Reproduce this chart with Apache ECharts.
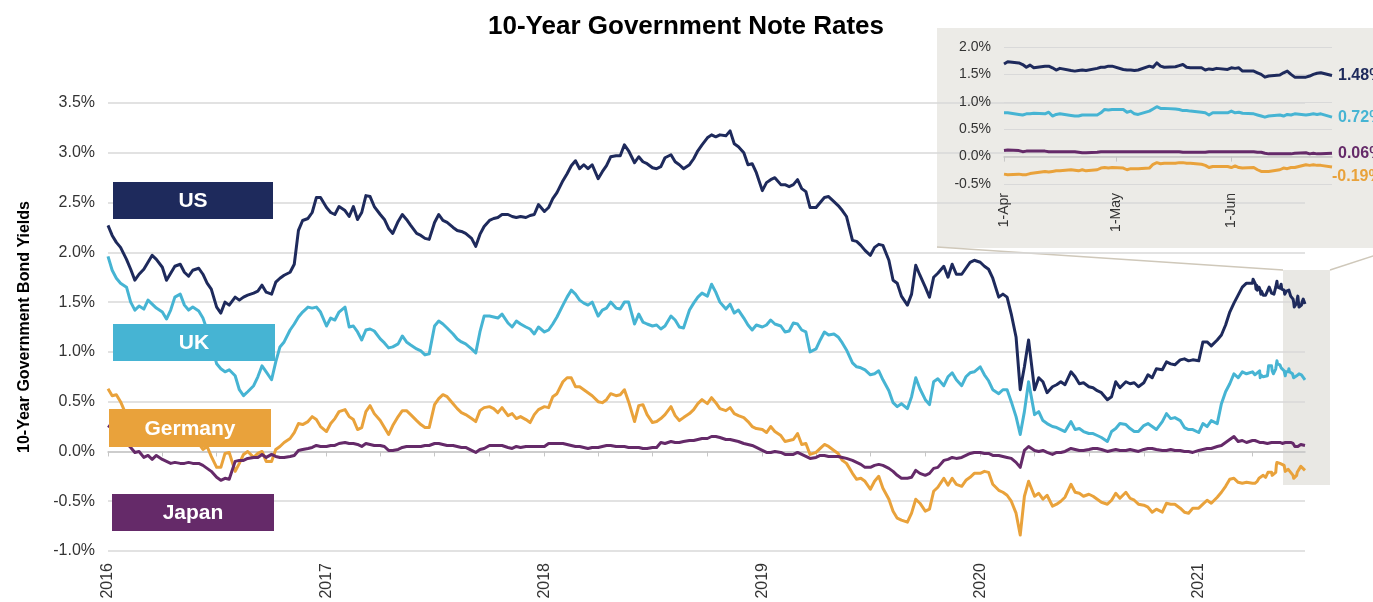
<!DOCTYPE html>
<html>
<head>
<meta charset="utf-8">
<title>10-Year Government Note Rates</title>
<script src="https://cdn.jsdelivr.net/npm/echarts@6/dist/echarts.min.js"></script>
<style>
  html, body { margin: 0; padding: 0; background: #ffffff; }
  #chart { width: 1373px; height: 602px; }
</style>
</head>
<body>
<div id="chart"></div>
<script>
// ---- Weekly observations, Jan 2016 - Mar 2021 ----
const weekDates = [
  '2016-01-01','2016-01-08','2016-01-15','2016-01-22','2016-02-01','2016-02-08','2016-02-15','2016-02-22','2016-03-01','2016-03-08','2016-03-15','2016-03-22',
  '2016-04-01','2016-04-08','2016-04-15','2016-04-22','2016-05-01','2016-05-08','2016-05-15','2016-05-22','2016-06-01','2016-06-08','2016-06-15','2016-06-22',
  '2016-07-01','2016-07-08','2016-07-15','2016-07-22','2016-08-01','2016-08-08','2016-08-15','2016-08-22','2016-09-01','2016-09-08','2016-09-15','2016-09-22',
  '2016-10-01','2016-10-08','2016-10-15','2016-10-22','2016-11-01','2016-11-08','2016-11-15','2016-11-22','2016-12-01','2016-12-08','2016-12-15','2016-12-22',
  '2017-01-01','2017-01-08','2017-01-15','2017-01-22','2017-02-01','2017-02-08','2017-02-15','2017-02-22','2017-03-01','2017-03-08','2017-03-15','2017-03-22',
  '2017-04-01','2017-04-08','2017-04-15','2017-04-22','2017-05-01','2017-05-08','2017-05-15','2017-05-22','2017-06-01','2017-06-08','2017-06-15','2017-06-22',
  '2017-07-01','2017-07-08','2017-07-15','2017-07-22','2017-08-01','2017-08-08','2017-08-15','2017-08-22','2017-09-01','2017-09-08','2017-09-15','2017-09-22',
  '2017-10-01','2017-10-08','2017-10-15','2017-10-22','2017-11-01','2017-11-08','2017-11-15','2017-11-22','2017-12-01','2017-12-08','2017-12-15','2017-12-22',
  '2018-01-01','2018-01-08','2018-01-15','2018-01-22','2018-02-01','2018-02-08','2018-02-15','2018-02-22','2018-03-01','2018-03-08','2018-03-15','2018-03-22',
  '2018-04-01','2018-04-08','2018-04-15','2018-04-22','2018-05-01','2018-05-08','2018-05-15','2018-05-22','2018-06-01','2018-06-08','2018-06-15','2018-06-22',
  '2018-07-01','2018-07-08','2018-07-15','2018-07-22','2018-08-01','2018-08-08','2018-08-15','2018-08-22','2018-09-01','2018-09-08','2018-09-15','2018-09-22',
  '2018-10-01','2018-10-08','2018-10-15','2018-10-22','2018-11-01','2018-11-08','2018-11-15','2018-11-22','2018-12-01','2018-12-08','2018-12-15','2018-12-22',
  '2019-01-01','2019-01-08','2019-01-15','2019-01-22','2019-02-01','2019-02-08','2019-02-15','2019-02-22','2019-03-01','2019-03-08','2019-03-15','2019-03-22',
  '2019-04-01','2019-04-08','2019-04-15','2019-04-22','2019-05-01','2019-05-08','2019-05-15','2019-05-22','2019-06-01','2019-06-08','2019-06-15','2019-06-22',
  '2019-07-01','2019-07-08','2019-07-15','2019-07-22','2019-08-01','2019-08-08','2019-08-15','2019-08-22','2019-09-01','2019-09-08','2019-09-15','2019-09-22',
  '2019-10-01','2019-10-08','2019-10-15','2019-10-22','2019-11-01','2019-11-08','2019-11-15','2019-11-22','2019-12-01','2019-12-08','2019-12-15','2019-12-22',
  '2020-01-01','2020-01-08','2020-01-15','2020-01-22','2020-02-01','2020-02-08','2020-02-15','2020-02-22','2020-03-01','2020-03-08','2020-03-15','2020-03-22',
  '2020-04-01','2020-04-08','2020-04-15','2020-04-22','2020-05-01','2020-05-08','2020-05-15','2020-05-22','2020-06-01','2020-06-08','2020-06-15','2020-06-22',
  '2020-07-01','2020-07-08','2020-07-15','2020-07-22','2020-08-01','2020-08-08','2020-08-15','2020-08-22','2020-09-01','2020-09-08','2020-09-15','2020-09-22',
  '2020-10-01','2020-10-08','2020-10-15','2020-10-22','2020-11-01','2020-11-08','2020-11-15','2020-11-22','2020-12-01','2020-12-08','2020-12-15','2020-12-22',
  '2021-01-01','2021-01-08','2021-01-15','2021-01-22','2021-02-01','2021-02-08','2021-02-15','2021-02-22','2021-03-01','2021-03-08','2021-03-15','2021-03-22'
];

const usYield = [
  2.27,2.17,2.10,2.05, 1.93,1.83,1.72,1.78, 1.83,1.90,1.97,1.93, 1.85,1.72,1.79,1.86, 1.88,1.80,1.76,1.82, 1.84,1.78,1.69,1.63,
  1.45,1.39,1.50,1.47, 1.55,1.52,1.55,1.57, 1.59,1.61,1.67,1.60, 1.58,1.70,1.74,1.77, 1.80,1.88,2.22,2.32, 2.34,2.40,2.55,2.55,
  2.45,2.40,2.38,2.46, 2.42,2.36,2.46,2.33, 2.40,2.57,2.56,2.46, 2.38,2.33,2.24,2.19, 2.31,2.38,2.33,2.27, 2.19,2.17,2.14,2.13,
  2.30,2.38,2.32,2.30, 2.25,2.22,2.21,2.19, 2.14,2.06,2.18,2.26, 2.32,2.34,2.35,2.38, 2.38,2.36,2.35,2.36, 2.35,2.37,2.38,2.48,
  2.41,2.45,2.54,2.60, 2.72,2.79,2.87,2.92, 2.84,2.88,2.84,2.88, 2.74,2.81,2.87,2.96, 2.97,2.97,3.08,3.02, 2.90,2.96,2.91,2.89,
  2.85,2.84,2.86,2.95, 2.98,2.91,2.88,2.84, 2.88,2.94,3.02,3.08, 3.15,3.18,3.16,3.18, 3.17,3.22,3.09,3.06, 3.00,2.88,2.89,2.80,
  2.62,2.70,2.73,2.75, 2.68,2.68,2.66,2.68, 2.73,2.64,2.61,2.45, 2.45,2.50,2.55,2.56, 2.51,2.47,2.42,2.36, 2.12,2.11,2.07,2.02,
  1.97,2.05,2.08,2.07, 1.92,1.72,1.69,1.56, 1.47,1.58,1.87,1.77, 1.65,1.55,1.75,1.79, 1.86,1.75,1.88,1.78, 1.78,1.84,1.90,1.92,
  1.90,1.86,1.83,1.74, 1.55,1.58,1.55,1.38, 1.15,0.62,0.85,1.12, 0.62,0.74,0.70,0.59, 0.65,0.67,0.70,0.67, 0.80,0.75,0.68,0.69,
  0.65,0.64,0.61,0.59, 0.52,0.55,0.70,0.64, 0.70,0.68,0.69,0.65, 0.69,0.77,0.74,0.83, 0.82,0.90,0.88,0.87, 0.92,0.93,0.91,0.92,
  0.91,1.10,1.10,1.06, 1.12,1.17,1.27,1.40, 1.49,1.57,1.65,1.69
];

const ukYield = [
  1.96,1.82,1.74,1.69, 1.65,1.50,1.42,1.46, 1.43,1.52,1.48,1.44, 1.40,1.33,1.42,1.55, 1.58,1.47,1.42,1.45, 1.41,1.34,1.22,1.08,
  0.88,0.83,0.80,0.82, 0.76,0.62,0.56,0.60, 0.66,0.75,0.86,0.80, 0.72,0.90,1.05,1.10, 1.22,1.28,1.35,1.40, 1.45,1.44,1.45,1.40,
  1.26,1.34,1.32,1.40, 1.45,1.25,1.26,1.20, 1.12,1.22,1.23,1.21, 1.13,1.09,1.04,1.05, 1.08,1.16,1.10,1.07, 1.03,1.01,0.97,0.98,
  1.26,1.31,1.28,1.24, 1.18,1.13,1.10,1.08, 1.03,0.99,1.20,1.36, 1.36,1.35,1.34,1.38, 1.29,1.25,1.31,1.28, 1.25,1.23,1.18,1.25,
  1.20,1.22,1.28,1.35, 1.47,1.55,1.62,1.58, 1.52,1.49,1.47,1.50, 1.36,1.42,1.44,1.50, 1.44,1.43,1.50,1.50, 1.28,1.38,1.30,1.28,
  1.26,1.27,1.23,1.26, 1.36,1.32,1.25,1.24, 1.42,1.49,1.55,1.59, 1.56,1.68,1.60,1.50, 1.43,1.48,1.39,1.42, 1.34,1.27,1.22,1.27,
  1.25,1.27,1.32,1.28, 1.26,1.20,1.21,1.29, 1.28,1.22,1.20,1.00, 1.03,1.12,1.20,1.17, 1.18,1.15,1.09,1.02, 0.89,0.85,0.84,0.82,
  0.77,0.78,0.81,0.72, 0.61,0.49,0.45,0.48, 0.43,0.55,0.74,0.63, 0.52,0.47,0.70,0.73, 0.66,0.75,0.79,0.72, 0.66,0.75,0.79,0.80,
  0.85,0.77,0.71,0.62, 0.58,0.62,0.62,0.50, 0.35,0.17,0.40,0.70, 0.37,0.40,0.31,0.28, 0.25,0.24,0.22,0.20, 0.30,0.22,0.23,0.20,
  0.18,0.18,0.16,0.14, 0.10,0.20,0.23,0.28, 0.27,0.23,0.20,0.20, 0.26,0.28,0.25,0.22, 0.30,0.38,0.33,0.34, 0.31,0.24,0.22,0.22,
  0.19,0.28,0.25,0.31, 0.28,0.48,0.60,0.68, 0.78,0.74,0.80,0.78
];

const germanyYield = [
  0.63,0.56,0.57,0.50, 0.36,0.30,0.23,0.18, 0.15,0.25,0.30,0.20, 0.12,0.15,0.17,0.25, 0.20,0.12,0.15,0.16, 0.08,0.02,0.05,-0.05,
  -0.16,-0.16,-0.02,-0.01, -0.20,-0.12,-0.03,0.00, -0.06,-0.02,0.00,-0.10, -0.10,0.02,0.05,0.09, 0.13,0.19,0.28,0.27, 0.30,0.35,0.32,0.25,
  0.20,0.28,0.33,0.40, 0.42,0.35,0.32,0.22, 0.24,0.40,0.46,0.38, 0.31,0.24,0.17,0.26, 0.35,0.41,0.41,0.37, 0.31,0.27,0.24,0.24,
  0.47,0.53,0.57,0.55, 0.48,0.43,0.39,0.37, 0.33,0.30,0.41,0.44, 0.45,0.43,0.39,0.44, 0.36,0.38,0.33,0.35, 0.32,0.29,0.37,0.42,
  0.45,0.44,0.55,0.58, 0.70,0.74,0.74,0.65, 0.65,0.62,0.59,0.56, 0.50,0.49,0.52,0.58, 0.56,0.57,0.62,0.50, 0.30,0.46,0.47,0.37,
  0.29,0.30,0.33,0.37, 0.45,0.36,0.31,0.34, 0.38,0.42,0.48,0.52, 0.48,0.54,0.49,0.43, 0.41,0.44,0.38,0.36, 0.34,0.30,0.25,0.23,
  0.22,0.19,0.25,0.20, 0.16,0.10,0.11,0.12, 0.18,0.07,0.08,-0.03, -0.01,0.03,0.07,0.05, 0.01,-0.02,-0.09,-0.12, -0.22,-0.28,-0.27,-0.30,
  -0.38,-0.30,-0.25,-0.37, -0.48,-0.60,-0.67,-0.69, -0.71,-0.62,-0.48,-0.52, -0.60,-0.58,-0.40,-0.36, -0.27,-0.34,-0.27,-0.33, -0.35,-0.29,-0.26,-0.22,
  -0.22,-0.20,-0.21,-0.33, -0.39,-0.41,-0.44,-0.50, -0.62,-0.84,-0.45,-0.30, -0.45,-0.42,-0.48,-0.44, -0.55,-0.53,-0.50,-0.46, -0.33,-0.41,-0.42,-0.45,
  -0.43,-0.45,-0.48,-0.51, -0.53,-0.49,-0.42,-0.47, -0.41,-0.47,-0.49,-0.53, -0.54,-0.56,-0.61,-0.58, -0.61,-0.52,-0.53,-0.53, -0.57,-0.61,-0.62,-0.57,
  -0.57,-0.53,-0.49,-0.52, -0.46,-0.41,-0.35,-0.28, -0.27,-0.31,-0.32,-0.31
];

const japanYield = [
  0.26,0.23,0.21,0.22, 0.08,0.04,-0.01,0.00, -0.06,-0.04,-0.08,-0.04, -0.08,-0.10,-0.12,-0.11, -0.12,-0.12,-0.11,-0.12, -0.12,-0.14,-0.17,-0.20,
  -0.26,-0.29,-0.27,-0.28, -0.10,-0.09,-0.09,-0.07, -0.06,-0.06,-0.03,-0.06, -0.03,-0.05,-0.06,-0.06, -0.05,-0.04,0.01,0.02, 0.03,0.04,0.06,0.05,
  0.05,0.06,0.06,0.08, 0.09,0.08,0.08,0.07, 0.05,0.08,0.07,0.06, 0.06,0.05,0.01,0.01, 0.02,0.04,0.05,0.05, 0.05,0.05,0.06,0.06,
  0.08,0.08,0.07,0.06, 0.06,0.05,0.04,0.04, 0.01,-0.01,0.02,0.03, 0.06,0.06,0.06,0.06, 0.04,0.03,0.05,0.04, 0.05,0.05,0.05,0.05,
  0.05,0.08,0.08,0.08, 0.08,0.07,0.06,0.05, 0.05,0.04,0.03,0.04, 0.04,0.05,0.06,0.06, 0.05,0.05,0.05,0.04, 0.04,0.04,0.03,0.03,
  0.04,0.04,0.09,0.08, 0.10,0.09,0.09,0.10, 0.11,0.11,0.12,0.13, 0.13,0.15,0.15,0.14, 0.12,0.12,0.11,0.10, 0.08,0.07,0.06,0.04,
  0.01,-0.01,-0.01,0.00, -0.01,-0.03,-0.03,-0.03, -0.01,-0.03,-0.05,-0.07, -0.06,-0.04,-0.04,-0.05, -0.05,-0.05,-0.06,-0.07, -0.09,-0.11,-0.13,-0.16,
  -0.16,-0.14,-0.13,-0.14, -0.17,-0.20,-0.24,-0.27, -0.27,-0.26,-0.19,-0.22, -0.24,-0.22,-0.17,-0.16, -0.09,-0.08,-0.06,-0.07, -0.06,-0.04,-0.02,-0.01,
  -0.01,-0.02,-0.02,-0.04, -0.04,-0.05,-0.06,-0.07, -0.11,-0.16,0.01,0.05, 0.01,0.00,0.01,-0.01, -0.03,-0.01,-0.01,0.00, 0.03,0.02,0.01,0.01,
  0.02,0.03,0.03,0.02, 0.00,0.01,0.02,0.01, 0.01,0.02,0.01,0.00, 0.02,0.03,0.03,0.02, 0.01,0.01,0.02,0.01, 0.01,0.00,0.00,-0.01,
  0.01,0.02,0.03,0.03, 0.05,0.06,0.09,0.12, 0.15,0.10,0.11,0.09
];

// ---- Daily observations, Apr - Jun 2021 (shown in the zoom panel) ----
const recentDates = [
  '2021-04-01','2021-04-02','2021-04-05','2021-04-06','2021-04-07','2021-04-08','2021-04-09','2021-04-12','2021-04-13','2021-04-14','2021-04-15',
  '2021-04-16','2021-04-19','2021-04-20','2021-04-21','2021-04-22','2021-04-23','2021-04-26','2021-04-27','2021-04-28','2021-04-29','2021-04-30',
  '2021-05-03','2021-05-04','2021-05-05','2021-05-06','2021-05-07','2021-05-10','2021-05-11','2021-05-12','2021-05-13','2021-05-14','2021-05-17',
  '2021-05-18','2021-05-19','2021-05-20','2021-05-21','2021-05-24','2021-05-25','2021-05-26','2021-05-27','2021-05-28','2021-05-31',
  '2021-06-01','2021-06-02','2021-06-03','2021-06-04','2021-06-07','2021-06-08','2021-06-09','2021-06-10','2021-06-11','2021-06-14',
  '2021-06-15','2021-06-16','2021-06-17','2021-06-18','2021-06-21','2021-06-22','2021-06-23','2021-06-24','2021-06-25','2021-06-28'
];
const usRecent = [
  1.69,1.73,1.71,1.68,1.63,1.67,1.62,1.65,1.65,1.62,1.58,1.61,1.57,1.56,1.57,1.58,1.57,1.61,1.63,1.63,1.65,1.65,
  1.59,1.58,1.58,1.57,1.58,1.65,1.63,1.71,1.65,1.63,1.64,1.66,1.68,1.63,1.62,1.62,1.58,1.60,1.59,1.61,1.59,
  1.62,1.61,1.62,1.56,1.56,1.53,1.50,1.45,1.47,1.49,1.53,1.56,1.50,1.45,1.45,1.47,1.50,1.52,1.53,1.48
];
const ukRecent = [
  0.80,0.80,0.77,0.76,0.78,0.78,0.79,0.78,0.81,0.74,0.77,0.78,0.75,0.74,0.74,0.76,0.76,0.76,0.80,0.86,0.85,0.86,
  0.86,0.81,0.83,0.78,0.77,0.83,0.87,0.91,0.88,0.88,0.87,0.86,0.84,0.84,0.83,0.81,0.80,0.76,0.80,0.80,0.80,
  0.83,0.80,0.81,0.79,0.78,0.76,0.74,0.72,0.74,0.76,0.74,0.77,0.76,0.78,0.76,0.77,0.78,0.77,0.78,0.72
];
const germanyRecent = [
  -0.32,-0.33,-0.32,-0.33,-0.33,-0.31,-0.30,-0.27,-0.28,-0.27,-0.26,-0.26,-0.24,-0.25,-0.26,-0.24,-0.26,-0.24,-0.21,-0.20,-0.21,-0.20,
  -0.21,-0.24,-0.22,-0.22,-0.22,-0.21,-0.14,-0.11,-0.13,-0.12,-0.12,-0.11,-0.11,-0.12,-0.12,-0.14,-0.16,-0.20,-0.18,-0.18,-0.18,
  -0.20,-0.17,-0.20,-0.21,-0.20,-0.24,-0.27,-0.27,-0.27,-0.24,-0.21,-0.22,-0.20,-0.20,-0.15,-0.16,-0.15,-0.16,-0.16,-0.19
];
const japanRecent = [
  0.11,0.12,0.11,0.09,0.10,0.10,0.10,0.10,0.09,0.09,0.09,0.09,0.09,0.09,0.08,0.07,0.07,0.08,0.09,0.09,0.09,0.09,
  0.09,0.09,0.09,0.09,0.09,0.09,0.09,0.09,0.09,0.09,0.09,0.09,0.08,0.08,0.08,0.08,0.08,0.09,0.09,0.09,0.09,
  0.09,0.09,0.09,0.09,0.09,0.08,0.08,0.06,0.05,0.05,0.05,0.05,0.05,0.06,0.07,0.05,0.06,0.05,0.05,0.06
];

// ---- Axis ticks and labels ----
const yearTicks = ['2016-01-01','2017-01-01','2018-01-01','2019-01-01','2020-01-01','2021-01-01'];
const quarterTicks = [
  '2016-01-01','2016-04-01','2016-07-01','2016-10-01','2017-01-01','2017-04-01','2017-07-01','2017-10-01',
  '2018-01-01','2018-04-01','2018-07-01','2018-10-01','2019-01-01','2019-04-01','2019-07-01','2019-10-01',
  '2020-01-01','2020-04-01','2020-07-01','2020-10-01','2021-01-01','2021-04-01'
];
const monthTicks = ['2021-04-01','2021-05-01','2021-06-01'];
const countryNames = ['US', 'UK', 'Germany', 'Japan'];

// ---- Drawing ----
const FONT = '"Liberation Sans", Arial, Helvetica, sans-serif';
const COLORS = { US: '#1e2a5c', UK: '#46b4d3', Germany: '#e9a23b', Japan: '#652a69' };
const ts = s => echarts.number.parseDate(s).getTime();
const pairs = (dates, vals) => dates.map((d, i) => [ts(d), vals[i]]);
const pct1 = v => v.toFixed(1) + '%';

const START = ts('2016-01-01');
const END = ts('2021-06-28');
const ZOOM_START = ts('2021-04-01');

const allDates = weekDates.concat(recentDates);
const fullSeries = {
  US: usYield.concat(usRecent),
  UK: ukYield.concat(ukRecent),
  Germany: germanyYield.concat(germanyRecent),
  Japan: japanYield.concat(japanRecent)
};
const recentSeries = { US: usRecent, UK: ukRecent, Germany: germanyRecent, Japan: japanRecent };

// name boxes on the left side of the main plot
const boxLayout = {
  US:      { x: 113, y: 182, w: 160, h: 37 },
  UK:      { x: 113, y: 324, w: 162, h: 37 },
  Germany: { x: 109, y: 409, w: 162, h: 38 },
  Japan:   { x: 112, y: 494, w: 162, h: 37 }
};

const drawOrder = ['Germany', 'Japan', 'UK', 'US'];

const mainSeries = drawOrder.map(name => ({
  name: name,
  type: 'line',
  xAxisIndex: 0,
  yAxisIndex: 0,
  showSymbol: false,
  symbol: 'none',
  data: pairs(allDates, fullSeries[name]),
  lineStyle: { color: COLORS[name], width: 3, join: 'round' },
  itemStyle: { color: COLORS[name] },
  z: 3
}));

const zoomSeries = drawOrder.map(name => ({
  name: name + ' (Q2)',
  type: 'line',
  xAxisIndex: 2,
  yAxisIndex: 1,
  showSymbol: false,
  symbol: 'none',
  data: pairs(recentDates, recentSeries[name]),
  lineStyle: { color: COLORS[name], width: 3, join: 'round' },
  itemStyle: { color: COLORS[name] },
  z: 5,
  endLabel: {
    show: true,
    distance: 6,
    offset: name === 'Germany' ? [-6, 10] : [0, 0],
    formatter: p => p.value[1].toFixed(2) + '%',
    color: COLORS[name],
    fontFamily: FONT,
    fontWeight: 'bold',
    fontSize: 16
  }
}));

const graphics = [
  // zoom panel backdrop
  { type: 'rect', shape: { x: 937, y: 28, width: 440, height: 220 }, style: { fill: '#ecebe7' }, z: -10 },
  // highlighted span on the main plot
  { type: 'rect', shape: { x: 1283, y: 270, width: 47, height: 215 }, style: { fill: '#e9e8e4' }, z: -10 },
  // connector lines from the highlighted span to the panel
  { type: 'line', shape: { x1: 937, y1: 247, x2: 1283, y2: 270 }, style: { stroke: '#cfc8ba', lineWidth: 1.5 }, z: -9 },
  { type: 'line', shape: { x1: 1376, y1: 255, x2: 1330, y2: 270 }, style: { stroke: '#cfc8ba', lineWidth: 1.5 }, z: -9 }
];
countryNames.forEach(name => {
  const b = boxLayout[name];
  graphics.push({
    type: 'rect',
    shape: { x: b.x, y: b.y, width: b.w, height: b.h },
    style: { fill: COLORS[name] },
    z: 50
  });
  graphics.push({
    type: 'text',
    x: b.x + b.w / 2,
    y: b.y + b.h / 2 + 1,
    style: {
      text: name,
      fill: '#ffffff',
      fontFamily: FONT,
      fontWeight: 'bold',
      fontSize: 21,
      align: 'center',
      verticalAlign: 'middle'
    },
    z: 51
  });
});

const chart = echarts.init(document.getElementById('chart'), null, { renderer: 'canvas' });

chart.setOption({
  animation: false,
  backgroundColor: '#ffffff',
  textStyle: { fontFamily: FONT },
  title: {
    text: '10-Year Government Note Rates',
    left: 681,
    top: 9,
    textAlign: 'center',
    textStyle: { fontFamily: FONT, fontSize: 26, fontWeight: 'bold', color: '#000000' }
  },
  grid: [
    { left: 108, right: 68, top: 103, bottom: 51 },
    { left: 1004, right: 41, top: 47, bottom: 418 }
  ],
  xAxis: [
    {
      // year labels under the main plot
      type: 'value', gridIndex: 0, position: 'bottom', min: START, max: END,
      axisLine: { show: false, onZero: false },
      axisTick: { show: false },
      splitLine: { show: false },
      axisLabel: {
        rotate: 90, margin: 12, fontSize: 16, color: '#333333', fontFamily: FONT,
        customValues: yearTicks.map(ts),
        formatter: v => echarts.time.format(v, '{yyyy}', false)
      }
    },
    {
      // zero line with quarterly ticks
      type: 'value', gridIndex: 0, position: 'bottom', min: START, max: END,
      axisLine: { show: true, onZero: true, onZeroAxisIndex: 0, lineStyle: { color: '#c6c6c6', width: 1.5 } },
      axisTick: { show: true, length: 5, lineStyle: { color: '#c6c6c6', width: 1 }, customValues: quarterTicks.map(ts) },
      axisLabel: { show: false },
      splitLine: { show: false }
    },
    {
      // month labels under the zoom panel
      type: 'value', gridIndex: 1, position: 'bottom', min: ZOOM_START, max: END,
      axisLine: { show: false, onZero: false },
      axisTick: { show: false },
      splitLine: { show: false },
      axisLabel: {
        rotate: 90, margin: 9, fontSize: 14, color: '#333333', fontFamily: FONT,
        customValues: monthTicks.map(ts),
        formatter: v => echarts.time.format(v, '{d}-{MMM}', false)
      }
    },
    {
      type: 'value', gridIndex: 1, position: 'bottom', min: ZOOM_START, max: END,
      axisLine: { show: true, onZero: true, onZeroAxisIndex: 1, lineStyle: { color: '#c6c6c6', width: 1.5 } },
      axisTick: { show: true, length: 5, lineStyle: { color: '#c6c6c6', width: 1 }, customValues: monthTicks.map(ts) },
      axisLabel: { show: false },
      splitLine: { show: false }
    }
  ],
  yAxis: [
    {
      type: 'value', gridIndex: 0, min: -1, max: 3.5, interval: 0.5,
      name: '10-Year Government Bond Yields',
      nameLocation: 'middle',
      nameGap: 75,
      nameTextStyle: { fontFamily: FONT, fontSize: 16, fontWeight: 'bold', color: '#000000' },
      axisLine: { show: false },
      axisTick: { show: false },
      axisLabel: { fontSize: 16, color: '#333333', margin: 13, fontFamily: FONT, formatter: pct1 },
      splitLine: { show: true, lineStyle: { color: '#d9d9d9', width: 1.5 } }
    },
    {
      type: 'value', gridIndex: 1, min: -0.5, max: 2.0, interval: 0.5,
      axisLine: { show: false },
      axisTick: { show: false },
      axisLabel: { fontSize: 14, color: '#333333', margin: 13, fontFamily: FONT, formatter: pct1 },
      splitLine: { show: true, lineStyle: { color: '#d9d9d9', width: 1 } }
    }
  ],
  graphic: { elements: graphics },
  series: mainSeries.concat(zoomSeries)
});
</script>
</body>
</html>
